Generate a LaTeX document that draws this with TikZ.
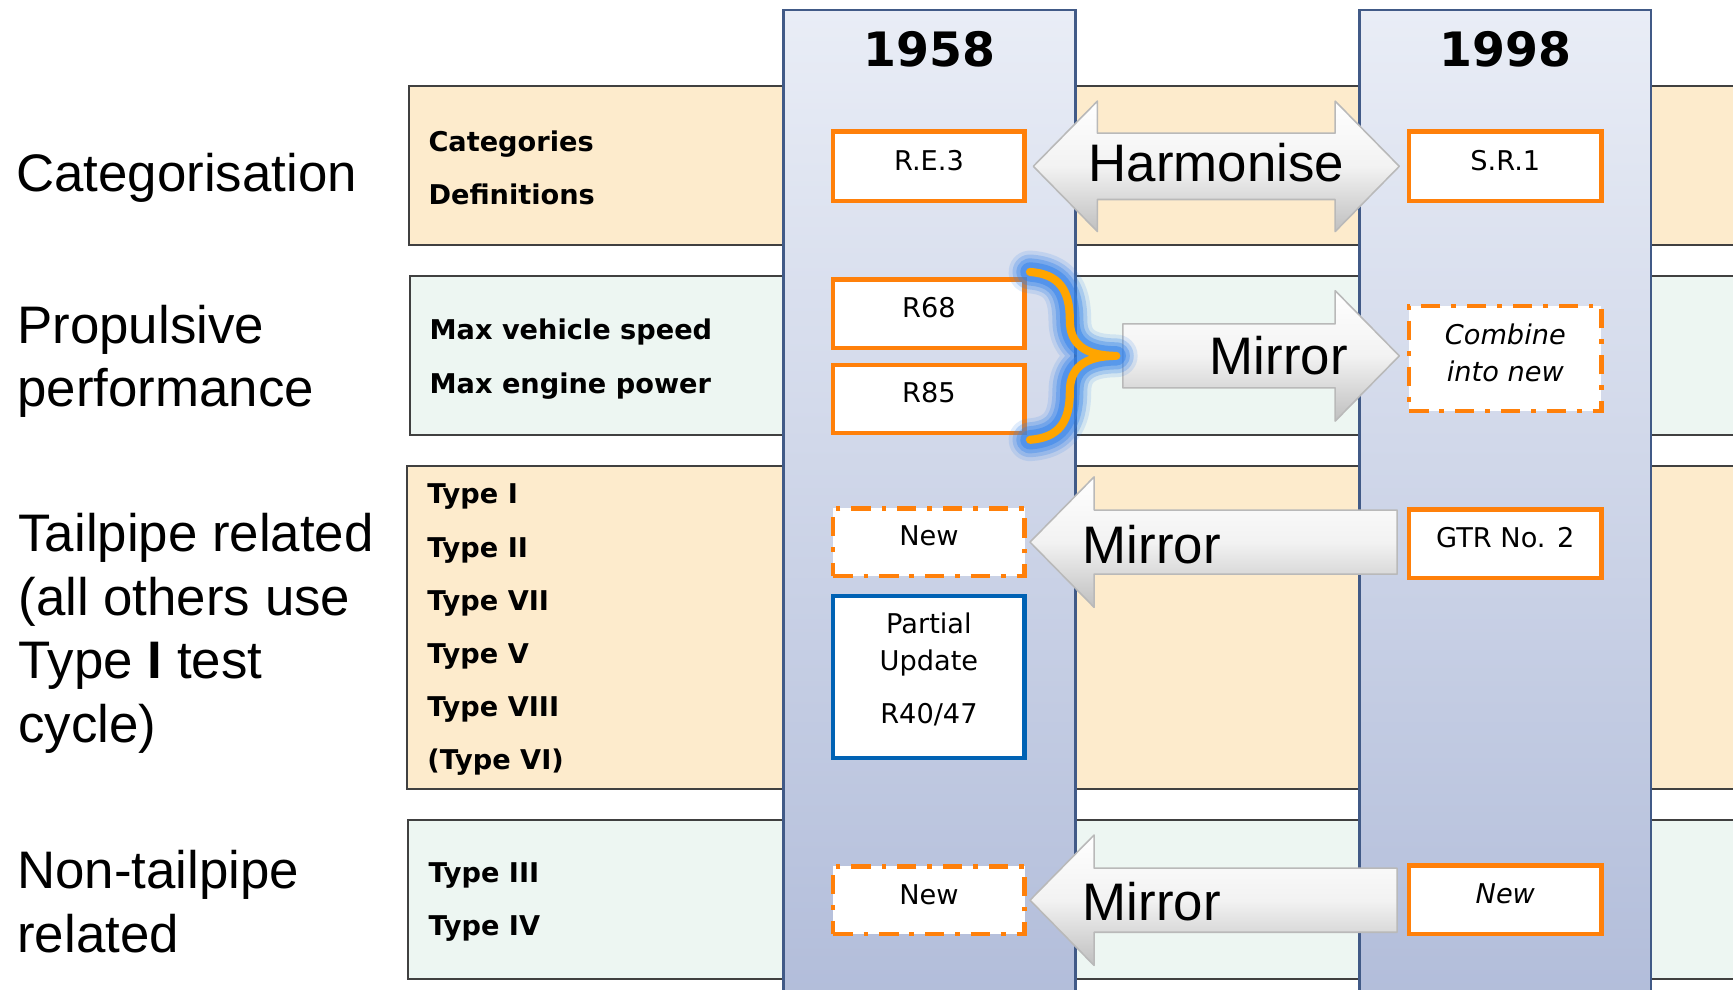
\documentclass[tikz,border=0pt]{standalone}
\usepackage{fontspec}
\setmainfont{Liberation Sans}
\newfontfamily\verdfont{DejaVu Sans}[BoldFont={DejaVu Sans Bold},ItalicFont={DejaVu Sans Oblique}]
\usetikzlibrary{calc}

\definecolor{peach}{RGB}{253,235,204}
\definecolor{mint}{RGB}{237,246,242}
\definecolor{coltop}{RGB}{233,237,246}
\definecolor{colbot}{RGB}{178,189,218}
\definecolor{colline}{RGB}{65,90,135}
\definecolor{regorange}{RGB}{255,128,10}
\definecolor{partblue}{RGB}{0,98,180}
\definecolor{braceorange}{RGB}{255,165,0}
\definecolor{glowblue}{RGB}{50,130,235}

\begin{document}
\begin{tikzpicture}[x=0.1mm, y=-0.1mm,
    band/.style={draw=black!75, line width=0.5pt},
    yearcol/.style={draw=colline, line width=0.6pt, top color=coltop, bottom color=colbot},
    yearhead/.style={font=\verdfont\bfseries\fontsize{12.2}{14}\selectfont, inner sep=0pt},
    rowlabel/.style={anchor=west, align=left, inner sep=0pt, font=\fontsize{13.6}{16.4}\selectfont},
    rowitems/.style={anchor=west, align=left, inner sep=0pt, font=\verdfont\bfseries\fontsize{7}{13.7}\selectfont},
    docbox/.style={draw=regorange, line width=1.1pt, fill=white, minimum width=17.3mm, minimum height=6.2mm, inner sep=0pt, font=\verdfont\fontsize{7}{9.6}\selectfont},
    onerow/.style={text height=5.1pt, text depth=3.1pt},
    dashbox/.style={dash pattern=on 5pt off 2.8pt on 1.2pt off 2.8pt},
    blockarrow/.style={draw=gray!55, line width=0.4pt, line join=round, top color=white, bottom color=gray!50, middle color=gray!10},
    arrowtext/.style={inner sep=0pt, font=\fontsize{13.6}{16}\selectfont}]

    \useasboundingbox (0,0) rectangle (1568,895);
    \clip (0,0) rectangle (1568,895);

    % rows
    \draw[band, fill=peach] (370,78) rectangle (1600,222);
    \draw[band, fill=mint] (371,250) rectangle (1600,394);
    \draw[band, fill=peach] (368,422) rectangle (1600,714);
    \draw[band, fill=mint] (369,742) rectangle (1600,886);

    % year columns
    \draw[yearcol] (709,9) rectangle (973,905);
    \draw[yearcol] (1230,9) rectangle (1494,905);
    \node[yearhead] (y1958) at (841,45) {1958};
    \node[yearhead] (y1998) at (1362,45) {1998};

    \node[rowlabel] (lcat) at (14,161) {Categorisation};
    \node[rowlabel] (lprop) at (15,327) {Propulsive\\performance};
    \node[rowlabel] (ltail) at (16,573) {Tailpipe related\\(all others use\\Type \textbf{I} test\\cycle)};
    \node[rowlabel] (lnon) at (15,816) {Non-tailpipe\\related};

    \node[rowitems] (icat) at (387,152) {Categories\\Definitions};
    \node[rowitems] (iprop) at (388,325) {Max vehicle speed\\Max engine power};
    \node[rowitems] (itail) at (386,570) {Type I\\Type II\\Type VII\\Type V\\Type VIII\\(Type VI)};
    \node[rowitems] (inon) at (387,816.5) {Type III\\Type IV};

    % 1958 boxes
    \node[docbox, onerow, minimum height=6.3mm] (re3) at (840.5,150.5) {R.E.3};
    \node[docbox, onerow] (r68) at (840.5,284) {R68};
    \node[docbox, onerow] (r85) at (840.5,361) {R85};
    \node[docbox, onerow, dashbox, minimum height=6.1mm] (new1) at (840.5,490.5) {New};
    \node[docbox, draw=partblue, align=center, minimum height=14.7mm] (part) at (840.5,612.5) {Partial\\Update\\[4pt]R40/47\rule[-4.4pt]{0pt}{0pt}};
    \node[docbox, onerow, dashbox, minimum height=6.1mm] (new2) at (840.5,814.5) {New};

    % 1998 boxes
    \node[docbox, onerow, minimum width=17.4mm, minimum height=6.3mm] (sr1) at (1362,150.5) {S.R.1};
    \node[docbox, dashbox, align=center, minimum width=17.4mm, minimum height=9.5mm, font=\verdfont\itshape\fontsize{7}{9.6}\selectfont] (comb) at (1362,324.5) {Combine\\into new\rule[-3.1pt]{0pt}{0pt}};
    \node[docbox, onerow, minimum width=17.4mm] (gtr) at (1362,492) {GTR No. 2};
    \node[docbox, onerow, minimum width=17.4mm, font=\verdfont\itshape\fontsize{7}{9.6}\selectfont] (newr) at (1362,814) {New};

    % harmonise
    \coordinate (hl) at ($(re3.east)+(6,0)$);
    \coordinate (hr) at ($(sr1.west)+(-7,0)$);
    \draw[blockarrow] (hl) -- ++(58,-59) -- ++(0,29) -- ($(hr)+(-58,-30)$) -- ++(0,-29) -- (hr)
        -- ++(-58,59) -- ++(0,-29) -- ($(hl)+(58,30)$) -- ++(0,29) -- cycle;
    \node[arrowtext] (harm) at ($(hl)!0.5!(hr)+(0,-3)$) {Harmonise};

    % mirror into new
    \coordinate (brtip) at (1010,322);
    \coordinate (ml) at ($(brtip)+(6,0)$);
    \coordinate (mr) at ($(comb.west |- brtip)+(-7,0)$);
    \draw[blockarrow] (ml) -- ++(0,-29) -- ($(mr)+(-58,-29)$) -- ++(0,-30) -- (mr)
        -- ++(-58,59) -- ++(0,-30) -- ($(ml)+(0,29)$) -- cycle;
    \node[arrowtext, anchor=east] (mir1) at ($(mr)+(-46,0)$) {Mirror};

    \coordinate (bs) at ($(r68.north east)+(3,-5)$);
    \coordinate (be) at ($(r85.south east)+(3,4)$);
    \foreach \c/\w/\o in {glowblue/11pt/0.15, glowblue/9pt/0.25, glowblue/7pt/0.35, glowblue/5pt/0.5, braceorange/2.1pt/1}
        \draw[\c, line width=\w, opacity=\o, line cap=round, line join=round] (bs)
            .. controls (958,248) and (968,262) .. (968,290)
            .. controls (968,310) and (980,322) .. (brtip)
            .. controls (980,322) and (968,334) .. (968,354)
            .. controls (968,382) and (958,396) .. (be);

    % mirror back to 1958
    \coordinate (m2l) at ($(new1.east)+(3,0)$);
    \coordinate (m2r) at ($(gtr.west |- m2l)+(-9,0)$);
    \draw[blockarrow] (m2l) -- ++(58,-59) -- ++(0,30) -- ($(m2r)+(0,-29)$) -- ++(0,58)
        -- ($(m2l)+(58,29)$) -- ++(0,30) -- cycle;
    \node[arrowtext, anchor=west] (mir2) at ($(m2l)+(47,2)$) {Mirror};

    \coordinate (m3l) at ($(new2.east)+(3,0)$);
    \coordinate (m3r) at ($(newr.west |- m3l)+(-9,0)$);
    \draw[blockarrow] (m3l) -- ++(58,-59) -- ++(0,30) -- ($(m3r)+(0,-29)$) -- ++(0,58)
        -- ($(m3l)+(58,29)$) -- ++(0,30) -- cycle;
    \node[arrowtext, anchor=west] (mir3) at ($(m3l)+(47,1)$) {Mirror};
\end{tikzpicture}
\end{document}
